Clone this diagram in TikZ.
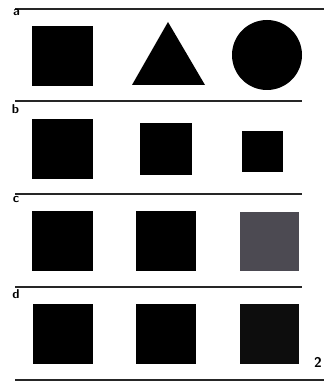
\documentclass[tikz,border=0pt]{standalone}
\usepackage{tkz-euclide}
\usetikzlibrary{calc}
\definecolor{RuleClr}{rgb}{0.15,0.15,0.15}
\definecolor{GreyClr}{rgb}{0.3,0.29,0.32}

\begin{document}
\begin{tikzpicture}[x=0.03cm,y=0.03cm]
\tikzset{rule/.style={line width=1pt,color=RuleClr},
         panel/.style={font=\sffamily\bfseries\fontsize{11}{11}\selectfont,inner sep=0pt}}
\useasboundingbox (0,0) rectangle (324,381);

% rules between the rows
\tkzDefPoints{15/372/Ra,324/372/Rb,15/280/Rc,302/280/Rd,15/187/Re,302/187/Rf,15/94/Rg,302/94/Rh,15/1/Ri,324/1/Rj}
\draw[rule] (Ra) -- (Rb);
\draw[rule] (Rc) -- (Rd);
\draw[rule] (Re) -- (Rf);
\draw[rule] (Rg) -- (Rh);
\draw[rule] (Ri) -- (Rj);

\node[panel] (la) at (16.5,368) {a};
\node[panel] (lb) at (15.5,272) {b};
\node[panel] (lc) at (16,181) {c};
\node[panel] (ld) at (16,87) {d};

% row a
\tkzDefPoints{32/355/A,93/295/B,132/296/T1,205/296/T2,168/359/T3,267/326/O,302/326/P}
\fill[black] (A) rectangle (B);
\tkzFillPolygon[fill=black](T1,T2,T3)
\tkzFillCircle[fill=black](O,P)

% row b
\tkzDefPoints{32/262/C,93/202/D,140/258/E,192/206/F,242/250/G,283/209/H}
\fill[black] (C) rectangle (D);
\fill[black] (E) rectangle (F);
\fill[black] (G) rectangle (H);

% row c
\tkzDefPoints{32/170/I,93/110/J,136/170/K,196/110/L,240/169/M,299/110/N}
\fill[black] (I) rectangle (J);
\fill[black] (K) rectangle (L);
\fill[GreyClr] (M) rectangle (N);

% row d
\tkzDefPoints{33/77/Q,93/17/R,136/77/S,196/17/U,240/77/V,299/17/W}
\fill[black] (Q) rectangle (R);
\fill[black] (S) rectangle (U);
\fill[black!95] (V) rectangle (W);

\node[panel,font=\sffamily\bfseries\fontsize{12}{12}\selectfont] (num) at (318,19) {2};

\end{tikzpicture}
\end{document}
